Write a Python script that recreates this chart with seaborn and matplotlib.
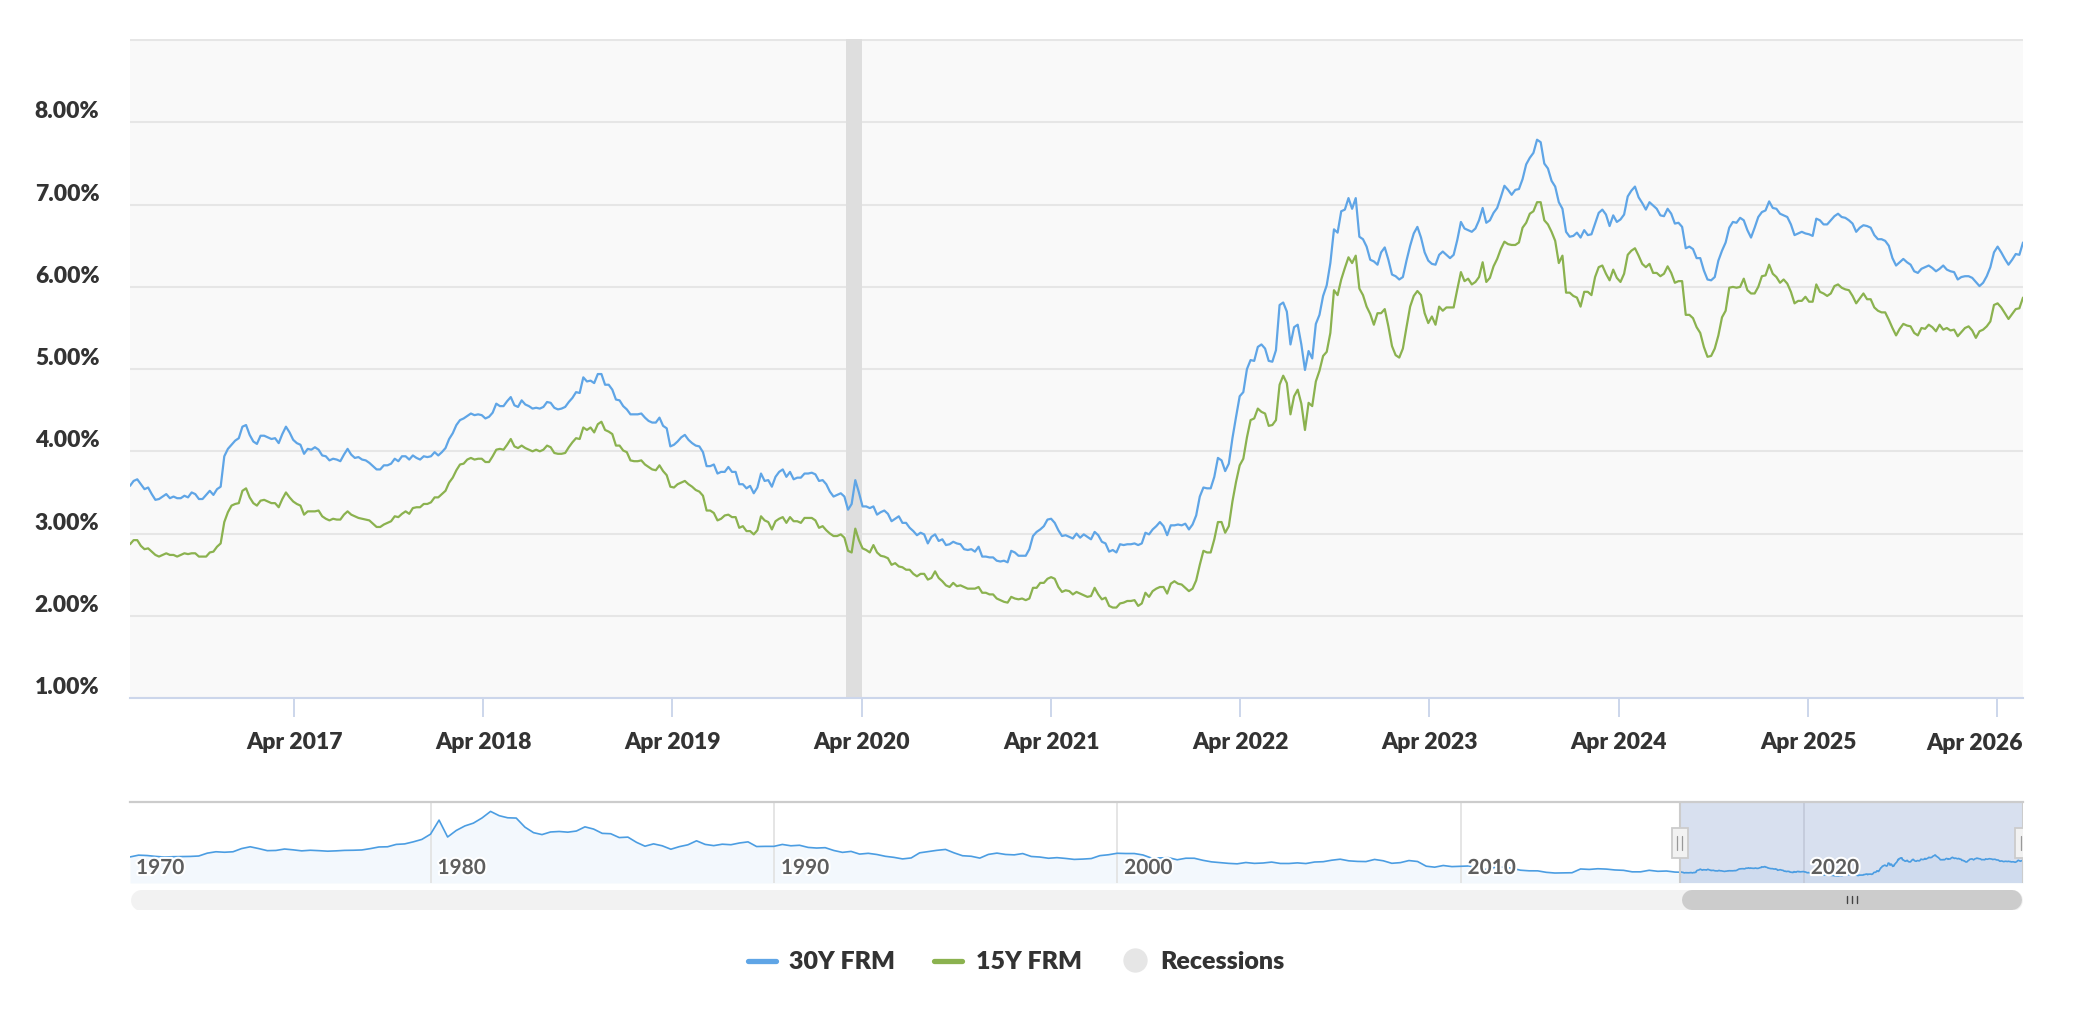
import matplotlib
matplotlib.use('Agg')
import matplotlib.pyplot as plt
import matplotlib.dates as mdates
import matplotlib.transforms as mtransforms
import matplotlib.patheffects as pe
from matplotlib.lines import Line2D
from matplotlib.patches import Rectangle
import pandas as pd
import seaborn as sns

# weekly 30Y / 15Y fixed mortgage rates (%), one list per year
r30_2016 = [3.58, 3.64, 3.66, 3.60, 3.54, 3.56, 3.48, 3.41, 3.42, 3.45, 3.48, 3.43, 3.45, 3.43, 3.43,
            3.46, 3.44, 3.50, 3.48, 3.42, 3.42, 3.47, 3.52, 3.47, 3.54, 3.57, 3.94, 4.03, 4.08, 4.13,
            4.16, 4.30, 4.32]
r30_2017 = [4.20, 4.12, 4.09, 4.19, 4.19, 4.17, 4.15, 4.16, 4.10, 4.21, 4.30, 4.23, 4.14, 4.10, 4.08,
            3.97, 4.03, 4.02, 4.05, 4.02, 3.95, 3.94, 3.89, 3.91, 3.90, 3.88, 3.96, 4.03, 3.96, 3.92,
            3.93, 3.90, 3.89, 3.86, 3.82, 3.78, 3.78, 3.83, 3.83, 3.85, 3.91, 3.88, 3.94, 3.94, 3.90,
            3.95, 3.92, 3.90, 3.94, 3.93, 3.94, 3.99]
r30_2018 = [3.95, 3.99, 4.04, 4.15, 4.22, 4.32, 4.38, 4.40, 4.43, 4.46, 4.44, 4.45, 4.44, 4.40, 4.42,
            4.47, 4.58, 4.55, 4.55, 4.61, 4.66, 4.56, 4.54, 4.62, 4.57, 4.55, 4.52, 4.53, 4.52, 4.54,
            4.60, 4.59, 4.53, 4.51, 4.52, 4.54, 4.60, 4.65, 4.72, 4.71, 4.90, 4.85, 4.86, 4.83, 4.94,
            4.94, 4.81, 4.81, 4.75, 4.63, 4.62, 4.55]
r30_2019 = [4.51, 4.45, 4.45, 4.45, 4.46, 4.41, 4.37, 4.35, 4.35, 4.41, 4.31, 4.28, 4.06, 4.08, 4.12,
            4.17, 4.20, 4.14, 4.10, 4.07, 4.06, 3.99, 3.82, 3.82, 3.84, 3.73, 3.75, 3.75, 3.81, 3.75,
            3.75, 3.60, 3.60, 3.55, 3.58, 3.49, 3.56, 3.73, 3.64, 3.65, 3.57, 3.69, 3.75, 3.78, 3.69,
            3.75, 3.66, 3.68, 3.68, 3.73, 3.73, 3.74]
r30_2020 = [3.72, 3.64, 3.65, 3.60, 3.51, 3.45, 3.47, 3.49, 3.45, 3.29, 3.36, 3.65, 3.50, 3.33, 3.33,
            3.31, 3.33, 3.23, 3.26, 3.28, 3.24, 3.15, 3.18, 3.21, 3.13, 3.13, 3.07, 3.03, 2.98, 3.01,
            2.99, 2.88, 2.96, 2.99, 2.91, 2.93, 2.86, 2.87, 2.90, 2.88, 2.87, 2.81, 2.80, 2.81, 2.78,
            2.84, 2.72, 2.72, 2.71, 2.71, 2.67, 2.66, 2.67]
r30_2021 = [2.65, 2.79, 2.77, 2.73, 2.73, 2.73, 2.81, 2.97, 3.02, 3.05, 3.09, 3.17, 3.18, 3.13, 3.04,
            2.97, 2.98, 2.96, 2.94, 3.00, 2.95, 2.99, 2.96, 2.93, 3.02, 2.98, 2.90, 2.88, 2.78, 2.80,
            2.77, 2.87, 2.86, 2.87, 2.87, 2.88, 2.86, 2.88, 3.01, 2.99, 3.05, 3.09, 3.14, 3.09, 2.98,
            3.10, 3.10, 3.11, 3.10, 3.12, 3.05, 3.11]
r30_2022 = [3.22, 3.45, 3.56, 3.55, 3.55, 3.69, 3.92, 3.89, 3.76, 3.85, 4.16, 4.42, 4.67, 4.72, 5.00,
            5.11, 5.10, 5.27, 5.30, 5.25, 5.10, 5.09, 5.23, 5.78, 5.81, 5.70, 5.30, 5.51, 5.54, 5.30,
            4.99, 5.22, 5.13, 5.55, 5.66, 5.89, 6.02, 6.29, 6.70, 6.66, 6.92, 6.94, 7.08, 6.95, 7.08,
            6.61, 6.58, 6.49, 6.33, 6.31, 6.27, 6.42]
r30_2023 = [6.48, 6.33, 6.15, 6.13, 6.09, 6.12, 6.32, 6.50, 6.65, 6.73, 6.60, 6.42, 6.32, 6.28, 6.27,
            6.39, 6.43, 6.39, 6.35, 6.39, 6.57, 6.79, 6.71, 6.69, 6.67, 6.71, 6.81, 6.96, 6.78, 6.81,
            6.90, 6.96, 7.09, 7.23, 7.18, 7.12, 7.18, 7.19, 7.31, 7.49, 7.57, 7.63, 7.79, 7.76, 7.50,
            7.44, 7.29, 7.22, 7.03, 6.95, 6.67, 6.61]
r30_2024 = [6.62, 6.66, 6.60, 6.69, 6.63, 6.64, 6.77, 6.90, 6.94, 6.88, 6.74, 6.87, 6.79, 6.82, 6.88,
            7.10, 7.17, 7.22, 7.09, 7.02, 6.94, 7.03, 6.99, 6.95, 6.87, 6.86, 6.95, 6.89, 6.77, 6.78,
            6.73, 6.47, 6.49, 6.46, 6.35, 6.35, 6.20, 6.09, 6.08, 6.12, 6.32, 6.44, 6.54, 6.72, 6.79,
            6.78, 6.84, 6.81, 6.69, 6.60, 6.72, 6.85]
r30_2025 = [6.91, 6.93, 7.04, 6.96, 6.95, 6.89, 6.87, 6.85, 6.76, 6.63, 6.65, 6.67, 6.65, 6.64, 6.62,
            6.83, 6.81, 6.76, 6.76, 6.81, 6.86, 6.89, 6.85, 6.84, 6.81, 6.77, 6.67, 6.72, 6.75, 6.74,
            6.72, 6.63, 6.58, 6.58, 6.56, 6.50, 6.35, 6.26, 6.30, 6.34, 6.30, 6.27, 6.19, 6.17, 6.22,
            6.24, 6.26, 6.23, 6.19, 6.22, 6.26, 6.21]
r30_2026 = [6.19, 6.18, 6.09, 6.12, 6.13, 6.13, 6.11, 6.06, 6.01, 6.05, 6.13, 6.24, 6.42, 6.49, 6.42,
            6.34, 6.27, 6.33, 6.40, 6.39, 6.54]

r15_2016 = [2.87, 2.92, 2.92, 2.85, 2.81, 2.82, 2.78, 2.74, 2.72, 2.74, 2.76, 2.74, 2.74, 2.72, 2.74,
            2.76, 2.75, 2.76, 2.76, 2.72, 2.72, 2.72, 2.77, 2.78, 2.84, 2.88, 3.14, 3.26, 3.34, 3.36,
            3.37, 3.52, 3.55]
r15_2017 = [3.44, 3.37, 3.34, 3.40, 3.41, 3.39, 3.37, 3.37, 3.32, 3.42, 3.50, 3.44, 3.39, 3.36, 3.34,
            3.23, 3.27, 3.27, 3.27, 3.28, 3.21, 3.18, 3.16, 3.18, 3.17, 3.17, 3.23, 3.27, 3.23, 3.21,
            3.19, 3.18, 3.17, 3.16, 3.12, 3.08, 3.08, 3.11, 3.13, 3.15, 3.21, 3.20, 3.24, 3.27, 3.24,
            3.31, 3.32, 3.32, 3.36, 3.36, 3.38, 3.44]
r15_2018 = [3.44, 3.48, 3.52, 3.62, 3.68, 3.77, 3.84, 3.85, 3.90, 3.92, 3.90, 3.91, 3.91, 3.87, 3.87,
            3.94, 4.02, 4.03, 4.02, 4.08, 4.15, 4.06, 4.04, 4.07, 4.04, 4.02, 4.00, 4.02, 4.00, 4.02,
            4.07, 4.05, 3.98, 3.97, 3.97, 3.98, 4.05, 4.11, 4.16, 4.15, 4.29, 4.26, 4.29, 4.23, 4.33,
            4.36, 4.26, 4.24, 4.21, 4.07, 4.07, 4.01]
r15_2019 = [3.99, 3.89, 3.88, 3.88, 3.89, 3.84, 3.81, 3.78, 3.77, 3.83, 3.76, 3.71, 3.57, 3.56, 3.60,
            3.62, 3.64, 3.60, 3.57, 3.53, 3.51, 3.46, 3.28, 3.28, 3.25, 3.16, 3.18, 3.22, 3.23, 3.20,
            3.20, 3.07, 3.09, 3.03, 3.03, 2.99, 3.04, 3.21, 3.16, 3.14, 3.05, 3.15, 3.18, 3.20, 3.13,
            3.20, 3.15, 3.15, 3.13, 3.19, 3.19, 3.19]
r15_2020 = [3.16, 3.07, 3.09, 3.04, 3.00, 2.97, 2.97, 2.99, 2.95, 2.79, 2.77, 3.06, 2.92, 2.82, 2.80,
            2.77, 2.86, 2.77, 2.73, 2.72, 2.70, 2.62, 2.64, 2.60, 2.59, 2.56, 2.56, 2.51, 2.48, 2.51,
            2.51, 2.44, 2.46, 2.54, 2.46, 2.42, 2.37, 2.35, 2.40, 2.36, 2.37, 2.35, 2.33, 2.33, 2.33,
            2.35, 2.28, 2.28, 2.26, 2.26, 2.21, 2.19, 2.17]
r15_2021 = [2.16, 2.23, 2.21, 2.20, 2.21, 2.19, 2.21, 2.34, 2.34, 2.40, 2.40, 2.45, 2.47, 2.45, 2.35,
            2.29, 2.31, 2.30, 2.26, 2.29, 2.27, 2.25, 2.23, 2.24, 2.34, 2.26, 2.20, 2.22, 2.12, 2.10,
            2.10, 2.15, 2.16, 2.18, 2.18, 2.19, 2.12, 2.15, 2.28, 2.23, 2.30, 2.33, 2.35, 2.35, 2.27,
            2.39, 2.42, 2.39, 2.38, 2.34, 2.30, 2.33]
r15_2022 = [2.43, 2.62, 2.79, 2.77, 2.77, 2.93, 3.14, 3.14, 3.01, 3.09, 3.39, 3.63, 3.83, 3.91, 4.17,
            4.38, 4.40, 4.52, 4.48, 4.46, 4.31, 4.32, 4.38, 4.81, 4.92, 4.83, 4.45, 4.67, 4.75, 4.58,
            4.26, 4.59, 4.55, 4.85, 4.98, 5.16, 5.21, 5.44, 5.96, 5.90, 6.09, 6.23, 6.36, 6.29, 6.38,
            5.98, 5.90, 5.76, 5.67, 5.54, 5.68, 5.68]
r15_2023 = [5.73, 5.52, 5.28, 5.17, 5.14, 5.25, 5.51, 5.76, 5.89, 5.95, 5.90, 5.68, 5.56, 5.64, 5.54,
            5.76, 5.71, 5.75, 5.75, 5.75, 5.97, 6.18, 6.07, 6.10, 6.03, 6.06, 6.12, 6.30, 6.06, 6.11,
            6.25, 6.34, 6.46, 6.55, 6.52, 6.51, 6.51, 6.54, 6.72, 6.78, 6.89, 6.92, 7.03, 7.03, 6.81,
            6.76, 6.67, 6.56, 6.29, 6.38, 5.93, 5.93]
r15_2024 = [5.89, 5.87, 5.76, 5.94, 5.94, 5.90, 6.12, 6.24, 6.26, 6.16, 6.08, 6.21, 6.11, 6.06, 6.16,
            6.39, 6.44, 6.47, 6.38, 6.28, 6.24, 6.28, 6.17, 6.17, 6.13, 6.16, 6.25, 6.17, 6.05, 6.07,
            6.07, 5.66, 5.66, 5.62, 5.51, 5.44, 5.27, 5.15, 5.16, 5.25, 5.41, 5.63, 5.71, 5.99, 6.00,
            5.99, 6.00, 6.10, 5.96, 5.92, 5.92, 6.00]
r15_2025 = [6.13, 6.14, 6.27, 6.16, 6.12, 6.05, 6.09, 6.04, 5.94, 5.80, 5.83, 5.83, 5.88, 5.82, 5.82,
            6.03, 5.94, 5.92, 5.89, 5.92, 6.01, 6.03, 5.99, 5.97, 5.96, 5.89, 5.80, 5.86, 5.92, 5.85,
            5.85, 5.75, 5.71, 5.69, 5.69, 5.60, 5.50, 5.41, 5.49, 5.55, 5.53, 5.52, 5.44, 5.41, 5.50,
            5.49, 5.54, 5.51, 5.46, 5.54, 5.48, 5.50]
r15_2026 = [5.47, 5.48, 5.40, 5.45, 5.50, 5.52, 5.47, 5.38, 5.46, 5.48, 5.52, 5.58, 5.78, 5.80, 5.75,
            5.68, 5.61, 5.67, 5.73, 5.74, 5.87]

# first weekly survey date of each yearly list
year_starts = ['2016-05-19', '2017-01-05', '2018-01-04', '2019-01-03', '2020-01-02', '2021-01-07',
               '2022-01-06', '2023-01-05', '2024-01-04', '2025-01-02', '2026-01-01']

# 30Y history for the navigator, quarterly (Jan/Apr/Jul/Oct) from Apr 1971 to Apr 2016
nav30_quarterly = [
    7.31, 7.75, 7.66,
    7.44, 7.29, 7.37, 7.40, 7.44, 7.54, 8.24, 8.58, 8.46, 8.58, 9.36, 9.80,
    9.35, 8.85, 8.90, 9.25, 9.05, 8.80, 8.95, 8.85, 8.72, 8.80, 8.92, 8.95,
    9.02, 9.35, 9.75, 9.80, 10.38, 10.50, 11.00, 11.60,
    12.88, 16.32, 12.19, 13.79, 14.90, 15.58, 16.83, 18.45, 17.40, 16.89, 16.82, 14.61,
    13.25, 12.78, 13.42, 13.54, 13.37, 13.65, 14.67, 14.13, 13.08, 12.99, 12.05, 12.16,
    10.88, 9.94, 10.51, 10.04, 9.20, 9.83, 10.28, 11.26, 10.38, 10.08, 10.43, 10.30,
    10.73, 11.00, 9.86, 9.90,
    9.90, 10.37, 10.04, 10.17, 9.64, 9.49, 9.58, 8.89, 8.43, 8.67, 8.01, 8.20,
    7.91, 7.47, 7.21, 6.83, 7.07, 8.32, 8.61, 8.93, 9.15, 8.32, 7.61, 7.48,
    7.03, 7.93, 8.25, 7.92, 7.82, 8.14, 7.43, 7.29, 6.99, 7.14, 6.95, 6.71,
    6.79, 6.92, 7.63, 7.85,
    8.21, 8.15, 8.15, 7.80, 7.03, 7.08, 7.13, 6.62, 7.00, 6.99, 6.49, 6.11,
    5.92, 5.74, 5.63, 5.95, 5.74, 5.83, 6.06, 5.72, 5.71, 5.86, 5.70, 6.07,
    6.15, 6.51, 6.76, 6.36, 6.22, 6.18, 6.70, 6.38, 5.76, 5.92, 6.43, 6.20,
    5.05, 4.81, 5.22, 4.95,
    5.03, 5.10, 4.56, 4.23, 4.76, 4.84, 4.55, 4.07, 3.92, 3.91, 3.55, 3.38,
    3.41, 3.45, 4.37, 4.26, 4.43, 4.34, 4.13, 4.04, 3.67, 3.67, 4.05, 3.80,
    3.87, 3.61]

ytick_vals = [1, 2, 3, 4, 5, 6, 7, 8, 9]
ytick_labels = ['1.00%', '2.00%', '3.00%', '4.00%', '5.00%', '6.00%', '7.00%', '8.00%', '']
xtick_dates = ['2017-04-01', '2018-04-01', '2019-04-01', '2020-04-01', '2021-04-01',
               '2022-04-01', '2023-04-01', '2024-04-01', '2025-04-01', '2026-04-01']
xtick_labels = ['Apr 2017', 'Apr 2018', 'Apr 2019', 'Apr 2020', 'Apr 2021',
                'Apr 2022', 'Apr 2023', 'Apr 2024', 'Apr 2025', 'Apr 2026']
recession = ['2020-03-01', '2020-04-01']
nav_years = [1970, 1980, 1990, 2000, 2010, 2020]

C30 = '#5fa5e6'
C15 = '#8bb24f'
NAVLINE = '#4b9de2'
TXT = '#333333'
HEAVY = 'heavy'


def weekly(lists):
    parts = []
    for start, vals in zip(year_starts, lists):
        parts.append(pd.DataFrame({'date': pd.date_range(start, periods=len(vals), freq='7D'),
                                   'rate': vals}))
    return pd.concat(parts, ignore_index=True)


df30 = weekly([r30_2016, r30_2017, r30_2018, r30_2019, r30_2020, r30_2021,
               r30_2022, r30_2023, r30_2024, r30_2025, r30_2026])
df15 = weekly([r15_2016, r15_2017, r15_2018, r15_2019, r15_2020, r15_2021,
               r15_2022, r15_2023, r15_2024, r15_2025, r15_2026])
dfnav = pd.concat([pd.DataFrame({'date': pd.date_range('1971-04-01', periods=len(nav30_quarterly), freq='QS'),
                                 'rate': nav30_quarterly}), df30], ignore_index=True)

sns.set_style('white')
plt.rcParams['font.family'] = ['Lato', 'DejaVu Sans']

W, H = 2082, 1014
fig = plt.figure(figsize=(W / 100, H / 100), dpi=100)


def box(x0, y0, x1, y1):
    # pixel box (top-left origin) -> figure fraction rect
    return [x0 / W, 1 - y1 / H, (x1 - x0) / W, (y1 - y0) / H]


ax = fig.add_axes(box(130, 39, 2023, 698))
ax.set_facecolor('#f9f9f9')
start, end = df30['date'].iloc[0], df30['date'].iloc[-1]

ax.axvspan(pd.Timestamp(recession[0]), pd.Timestamp(recession[1]), color='#dedede', lw=0, zorder=1)
sns.lineplot(data=df30, x='date', y='rate', ax=ax, color=C30, lw=1.6, zorder=3)
sns.lineplot(data=df15, x='date', y='rate', ax=ax, color=C15, lw=1.6, zorder=3)

ax.set_xlim(start, end)
ax.set_ylim(1, 9.015)
ax.set_yticks(ytick_vals)
ax.set_yticklabels(ytick_labels, fontsize=16.5, fontweight=HEAVY, color=TXT)
for lab in ax.get_yticklabels():
    lab.set_verticalalignment('bottom')
ax.tick_params(axis='y', left=False, length=0, pad=22)

ax.set_xticks(pd.to_datetime(xtick_dates))
ax.set_xticklabels(xtick_labels[:-1] + [''], fontsize=16.5, fontweight=HEAVY, color=TXT)
ax.tick_params(axis='x', bottom=True, direction='out', length=13.5, width=1.4, color='#ccd6eb', pad=11)
ax.text(1.0, -35 / 659, xtick_labels[-1], transform=ax.transAxes, ha='right', va='top',
        fontsize=16.5, fontweight=HEAVY, color=TXT)

ax.grid(axis='y', color='#e6e6e6', lw=1.5)
ax.grid(axis='x', visible=False)
ax.set_axisbelow(True)
for s in ['top', 'right', 'left']:
    ax.spines[s].set_visible(False)
ax.spines['bottom'].set_color('#ccd6eb')
ax.spines['bottom'].set_linewidth(1.5)
ax.set_xlabel('')
ax.set_ylabel('')

# navigator
nav = fig.add_axes(box(130, 802, 2023, 883))
nav_start, nav_end = dfnav['date'].iloc[0], dfnav['date'].iloc[-1]
ymin, ymax = 0.94, 20.75
nav.set_xlim(nav_start, nav_end)
nav.set_ylim(ymin, ymax)
nav.fill_between(dfnav['date'], dfnav['rate'], ymin, color='#f3f8fd', lw=0, zorder=1)
for yr in nav_years[1:]:
    nav.axvline(pd.Timestamp(f'{yr}-01-01'), color='#e3e3e3', lw=1.3, zorder=1.2)
nav.axvspan(start, end, color=(102 / 255, 133 / 255, 194 / 255), alpha=0.25, lw=0, zorder=1.5)
sns.lineplot(data=dfnav, x='date', y='rate', ax=nav, color=NAVLINE, lw=1.2, zorder=2)
nav.set_xticks([])
nav.set_yticks([])
nav.set_xlabel('')
nav.set_ylabel('')
for s in ['bottom', 'right', 'left']:
    nav.spines[s].set_visible(False)
nav.spines['top'].set_color('#cccccc')
nav.spines['top'].set_linewidth(1.6)
for d in [start, end]:
    nav.axvline(d, color='#cccccc', lw=1.5, zorder=2.5)

blend = mtransforms.blended_transform_factory(nav.transData, nav.transAxes)
shift = mtransforms.ScaledTranslation(7 / 100, 0, fig.dpi_scale_trans)
halo = [pe.withStroke(linewidth=3, foreground='white')]
for yr in nav_years:
    if yr == 1970:
        nav.text(6 / 1893, 0.185, str(yr), transform=nav.transAxes, ha='left', va='center',
                 fontsize=15, fontweight='bold', color='#5e5e5e', zorder=3, path_effects=halo)
    else:
        nav.text(pd.Timestamp(f'{yr}-01-01'), 0.185, str(yr), transform=blend + shift, ha='left',
                 va='center', fontsize=15, fontweight='bold', color='#5e5e5e', zorder=3,
                 path_effects=halo)

days_per_px = (mdates.date2num(nav_end) - mdates.date2num(nav_start)) / 1893
for d in [start, end]:
    c = mdates.date2num(d)
    nav.add_patch(Rectangle((c - 8 * days_per_px, 25 / 81), 16 * days_per_px, 30 / 81,
                            transform=blend, facecolor='#f2f2f2', edgecolor='#cccccc', lw=1.3, zorder=4))
    for dx in [-2.5, 2.5]:
        nav.plot([c + dx * days_per_px] * 2, [33 / 81, 47 / 81], transform=blend,
                 color='#999999', lw=0.9, zorder=5)

# scrollbar
sc = fig.add_axes(box(130, 889, 2023, 910))
sc.set_xlim(mdates.date2num(nav_start), mdates.date2num(nav_end))
sc.set_ylim(0, 1)
sc.axis('off')
r = 10.5 * days_per_px
n0, n1 = mdates.date2num(nav_start), mdates.date2num(nav_end)
sc.plot([n0 + r, n1 - r], [0.5, 0.5], color='#f2f2f2', lw=21 * 0.72, solid_capstyle='round')
t0 = mdates.date2num(start) + 2 * days_per_px
sc.plot([t0 + r, n1 - r], [0.5, 0.5], color='#cccccc', lw=20 * 0.72, solid_capstyle='round')
mid = (t0 + n1) / 2
for dx in [-5, 0, 5]:
    sc.plot([mid + dx * days_per_px] * 2, [0.32, 0.68], color='#444444', lw=1.0)

# legend
def fx(px):
    return px / W


def fy(py):
    return 1 - py / H


for x0, x1, col, lab, tx in [(748, 776, C30, '30Y FRM', 789), (934, 962, C15, '15Y FRM', 976)]:
    fig.add_artist(Line2D([fx(x0), fx(x1)], [fy(961), fy(961)], color=col, lw=3.8,
                          solid_capstyle='round', transform=fig.transFigure))
    fig.text(fx(tx), fy(969), lab, ha='left', va='baseline', fontsize=18, fontweight=HEAVY, color=TXT)
fig.add_artist(Line2D([fx(1135)], [fy(960)], marker='o', ms=16.5, color='#e6e6e6', lw=0,
                      transform=fig.transFigure))
fig.text(fx(1160), fy(969), 'Recessions', ha='left', va='baseline', fontsize=18, fontweight=HEAVY, color=TXT)

fig.savefig('out.png', dpi=100, facecolor='white')
